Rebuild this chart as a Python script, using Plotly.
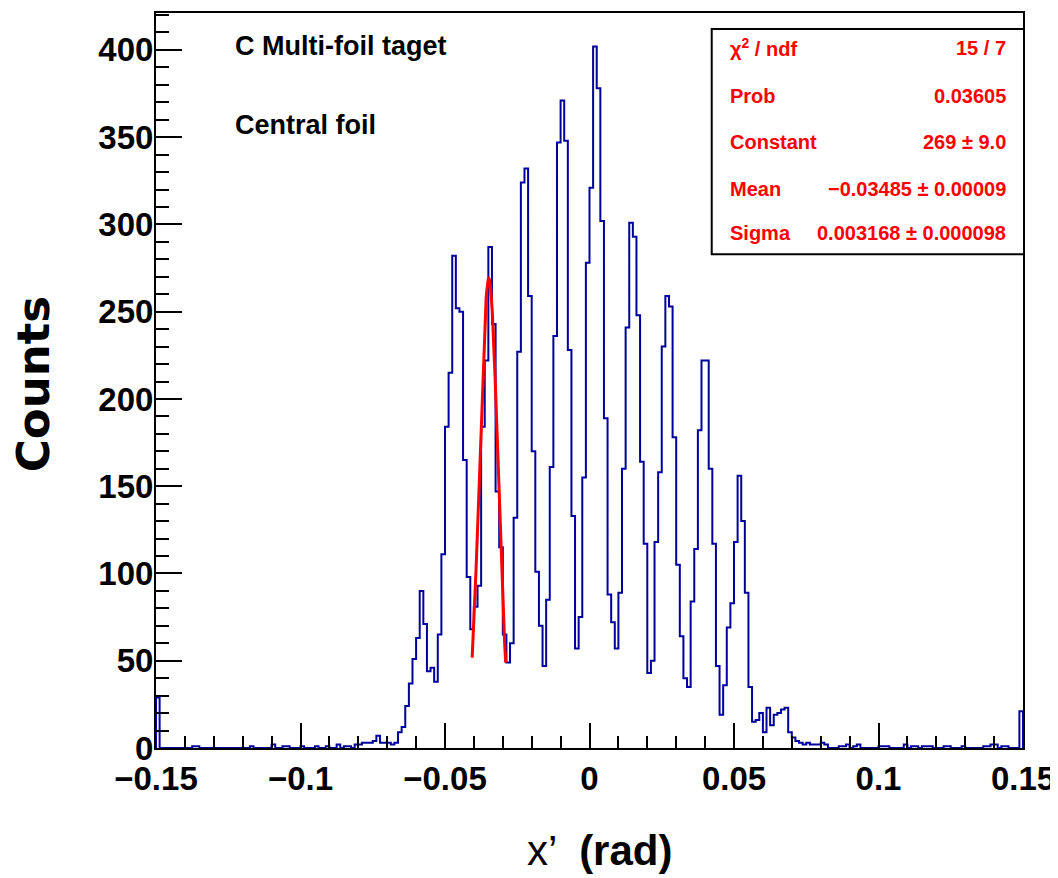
import numpy as np
import plotly.graph_objects as go

# ---------------- data ----------------
x_min, x_max, n_bins = -0.15, 0.15, 240

# bin contents (240 bins)
counts_left_tail = [29, 0, 0, 0, 0, 0, 0, 0, 0, 0,
                    1, 1, 0, 0, 0, 0, 0, 0, 0, 0,
                    0, 0, 0, 0, 0, 0, 1, 0, 0, 0,
                    0, 0, 2, 0, 0, 1, 1, 0, 0, 0,
                    1, 0, 0, 0, 1, 0, 0, 1, 0, 0,
                    2, 0, 1, 1, 0, 2, 2, 3, 3, 3,
                    4, 7, 3, 3, 3, 2, 3]                      # k = 0..66
counts_core = [9, 12, 24, 37, 51, 63, 90, 71, 44, 46,           # k = 67..76
               38, 65, 111, 184, 215, 282, 252, 250, 165, 98,   # 77..86
               68, 81, 93, 184, 222, 287, 243, 147, 115, 65,    # 87..96
               49, 60, 132, 227, 324, 332, 259, 170, 101, 70,   # 97..106
               47, 85, 161, 236, 347, 371, 348, 228, 133, 57,   # 107..116
               75, 155, 278, 321, 402, 378, 302, 189, 88, 72,   # 117..126
               57, 89, 160, 241, 301, 293, 248, 164, 117, 43,   # 127..136
               50, 118, 158, 230, 259, 253, 178, 105, 64, 40,   # 137..146
               35, 84, 114, 182, 222, 222, 160, 117, 47, 19,    # 147..156
               36, 69, 83, 118, 156, 130, 89, 35]               # 157..164
counts_right_tail = [15, 16, 20, 9, 23, 13, 19, 20, 22, 23,     # 165..174
                     9, 6, 4, 3, 2, 3, 2, 2, 2, 3,               # 175..184
                     2, 0, 0, 0, 1, 1, 2, 0, 1, 2,               # 185..194
                     0, 0, 0, 0, 0, 1, 1, 1, 0, 0,               # 195..204
                     0, 0, 2, 0, 1, 1, 0, 1, 1, 1,               # 205..214
                     0, 0, 0, 1, 1, 0, 0, 0, 1, 0,               # 215..224
                     0, 0, 0, 0, 1, 1, 2, 2, 0, 1,               # 225..234
                     1, 0, 0, 0, 21]                             # 235..239
counts = counts_left_tail + counts_core + counts_right_tail

# Gaussian fit result (from the stats box)
fit_constant, fit_mean, fit_sigma = 269.0, -0.03485, 0.003168
fit_range = (-0.0406, -0.0290)

stat_labels = ["χ<sup>2</sup> / ndf", "Prob", "Constant", "Mean", "Sigma"]
stat_values = ["15 / 7", "0.03605", "269 ± 9.0", "−0.03485 ± 0.00009", "0.003168 ± 0.000098"]

x_ticks = [-0.15, -0.1, -0.05, 0, 0.05, 0.1, 0.15]
x_ticklabels = ["−0.15", "−0.1", "−0.05", "0", "0.05", "0.1", "0.15"]
y_ticks = [0, 50, 100, 150, 200, 250, 300, 350, 400]

# ---------------- figure ----------------
assert len(counts) == n_bins
edges = np.linspace(x_min, x_max, n_bins + 1)
hx = np.concatenate([[edges[0]], edges[:-1], [edges[-1], edges[-1]]])
hy = np.concatenate([[0], counts, [counts[-1], 0]])

fx = np.linspace(fit_range[0], fit_range[1], 200)
fy = fit_constant * np.exp(-0.5 * ((fx - fit_mean) / fit_sigma) ** 2)

SANS = "Liberation Sans, Arial, sans-serif"

fig = go.Figure()
fig.add_trace(go.Scatter(x=hx, y=hy, mode="lines", line=dict(color="#00009a", width=2, shape="hv"),
                         hoverinfo="skip", showlegend=False))
fig.add_trace(go.Scatter(x=fx, y=fy, mode="lines", line=dict(color="#ff0000", width=3),
                         hoverinfo="skip", showlegend=False))

OFF = 8  # page body margin of the browser
W, H = 1058 - OFF, 878 - OFF
L, R, T, B = 156 - OFF, 1025 - OFF, 11 - OFF, 748 - OFF
fig.update_layout(
    width=W, height=H, autosize=False,
    margin=dict(l=L, r=W - R, t=T, b=H - B, pad=0),
    paper_bgcolor="white", plot_bgcolor="white",
    font=dict(family=SANS, color="black"),
    xaxis=dict(range=[x_min, x_max], tickmode="array", tickvals=x_ticks,
               ticktext=["<b>%s</b>" % t for t in x_ticklabels],
               ticks="inside", ticklen=25, tickwidth=2, tickcolor="black",
               minor=dict(tickmode="linear", tick0=0, dtick=0.01, ticks="inside", ticklen=12,
                          tickwidth=2, tickcolor="black", showgrid=False),
               showline=True, linecolor="black", linewidth=2, mirror=True,
               showgrid=False, zeroline=False,
               tickfont=dict(family=SANS, size=33, color="black"), ticklabelstandoff=0),
    yaxis=dict(range=[0, (748 - 11) / 1.75], tickmode="array", tickvals=y_ticks,
               ticktext=["<b>%d</b>" % v for v in y_ticks],
               ticks="inside", ticklen=26, tickwidth=2, tickcolor="black",
               minor=dict(tickmode="linear", tick0=0, dtick=10, ticks="inside", ticklen=13,
                          tickwidth=2, tickcolor="black", showgrid=False),
               showline=True, linecolor="black", linewidth=2, mirror=True,
               showgrid=False, zeroline=False,
               tickfont=dict(family=SANS, size=33, color="black"), ticklabelstandoff=-6),
)

def px_x(px):
    return (px - OFF - L) / (R - L)

def px_y(py):
    return (B - (py - OFF)) / (B - T)

# stats box
fig.add_shape(type="rect", xref="paper", yref="paper",
              x0=px_x(713), x1=px_x(1026), y0=px_y(253), y1=px_y(27),
              line=dict(color="black", width=2), fillcolor="white", layer="above")
row_y = [46, 94, 140, 187, 232]
for lab, val, ry in zip(stat_labels, stat_values, row_y):
    fig.add_annotation(x=px_x(729), y=px_y(ry), xref="paper", yref="paper", text="<b>%s</b>" % lab,
                       showarrow=False, xanchor="left", yanchor="middle",
                       font=dict(family=SANS, size=20, color="#ff0000"))
    fig.add_annotation(x=px_x(1010), y=px_y(ry), xref="paper", yref="paper", text="<b>%s</b>" % val,
                       showarrow=False, xanchor="right", yanchor="middle",
                       font=dict(family=SANS, size=20, color="#ff0000"))

# labels in the pad
fig.add_annotation(x=px_x(233), y=px_y(44), xref="paper", yref="paper", text="<b>C Multi-foil taget</b>",
                   showarrow=False, xanchor="left", yanchor="middle",
                   font=dict(family=SANS, size=27, color="black"))
fig.add_annotation(x=px_x(233), y=px_y(123), xref="paper", yref="paper", text="<b>Central foil</b>",
                   showarrow=False, xanchor="left", yanchor="middle",
                   font=dict(family=SANS, size=27, color="black"))

# axis titles
fig.add_annotation(x=px_x(34), y=px_y(383), xref="paper", yref="paper", text="<b>Counts</b>",
                   textangle=-90, showarrow=False, xanchor="center", yanchor="middle",
                   font=dict(family="DejaVu Sans, sans-serif", size=45, color="black"))
fig.add_annotation(x=px_x(601), y=px_y(851), xref="paper", yref="paper",
                   text="x’  <b>(rad)</b>", showarrow=False, xanchor="center", yanchor="middle",
                   font=dict(family=SANS, size=42, color="black"))

fig.write_html("out.html", config={"displayModeBar": False})
